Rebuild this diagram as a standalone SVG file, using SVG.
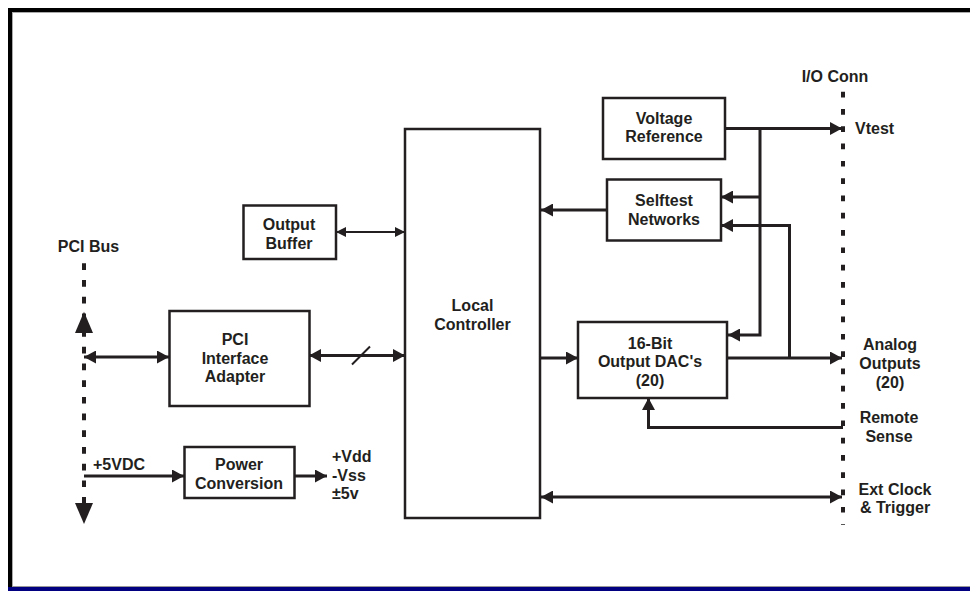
<svg xmlns="http://www.w3.org/2000/svg" width="970" height="591" viewBox="0 0 970 591">
<defs>
<style>
.box{fill:#fff;stroke:#231f20;stroke-width:2.5}
.t{font-family:"Liberation Sans",Arial,sans-serif;font-weight:bold;font-size:16px;fill:#231f20;text-anchor:middle}
.ts{font-family:"Liberation Sans",Arial,sans-serif;font-weight:bold;font-size:16px;fill:#231f20}
.w{fill:none;stroke:#231f20;stroke-width:3}
.wt{fill:none;stroke:#231f20;stroke-width:2}
.dot{fill:none;stroke:#231f20;stroke-width:4}
</style>
<marker id="a" viewBox="0 0 12 13" refX="12" refY="6.5" markerWidth="12" markerHeight="13" markerUnits="userSpaceOnUse" orient="auto-start-reverse"><path d="M0,0 L12,6.5 L0,13 z" fill="#231f20"/></marker>
<marker id="s" viewBox="0 0 10 10" refX="10" refY="5" markerWidth="10" markerHeight="10" markerUnits="userSpaceOnUse" orient="auto-start-reverse"><path d="M0,0 L10,5 L0,10 z" fill="#231f20"/></marker>
</defs>
<rect x="0" y="0" width="970" height="591" fill="#fff"/>
<g id="frame">
<rect x="8" y="8" width="962" height="4" fill="#000"/>
<rect x="8" y="8" width="4" height="580" fill="#000"/>
<line x1="12" y1="12.5" x2="970" y2="12.5" stroke="#aaa" stroke-width="1"/>
<line x1="12.5" y1="12" x2="12.5" y2="586" stroke="#aaa" stroke-width="1"/>
<line x1="12" y1="586.5" x2="970" y2="586.5" stroke="#999" stroke-width="1"/>
<rect x="8" y="587" width="962" height="4" fill="#000080"/>
</g>
<g id="connectors">
<line class="dot" x1="843" y1="91.7" x2="843" y2="525" stroke-dasharray="5.7 11.6"/>
<line class="dot" x1="84" y1="263.3" x2="84" y2="503" stroke-dasharray="6.7 10"/>
<polygon points="84,311.7 75,333 93,333" fill="#231f20"/>
<polygon points="84,524 75,503 93,503" fill="#231f20"/>
<line class="wt" x1="336" y1="232" x2="405" y2="232" marker-start="url(#s)" marker-end="url(#s)"/>
<line class="w" x1="84" y1="357" x2="169" y2="357" marker-start="url(#a)" marker-end="url(#a)"/>
<line class="w" x1="309" y1="355.5" x2="405" y2="355.5" marker-start="url(#a)" marker-end="url(#a)"/>
<line class="wt" x1="352" y1="364.5" x2="370" y2="346.5"/>
<line class="w" x1="84" y1="476" x2="184" y2="476" marker-end="url(#a)"/>
<line class="w" x1="294" y1="476" x2="327" y2="476" marker-end="url(#a)"/>
<line class="w" x1="607" y1="210" x2="541" y2="210" marker-end="url(#a)"/>
<line class="w" x1="540" y1="358" x2="578" y2="358" marker-end="url(#a)"/>
<line class="w" x1="725" y1="128.5" x2="842" y2="128.5" marker-end="url(#a)"/>
<path class="w" d="M760,128.5 V335 H728" marker-end="url(#a)"/>
<line class="w" x1="760" y1="197" x2="721" y2="197" marker-end="url(#a)"/>
<path class="w" d="M789.5,358 V225.5 H721" marker-end="url(#a)"/>
<line class="w" x1="727" y1="358" x2="842" y2="358" marker-end="url(#a)"/>
<path class="w" d="M843,427.5 H648.5 V398" marker-end="url(#a)"/>
<line class="w" x1="541" y1="497" x2="842" y2="497" marker-start="url(#a)" marker-end="url(#a)"/>
</g>
<g id="local-controller">
<rect class="box" x="405" y="129" width="135" height="389"/>
<text class="t" x="472.5" y="311">Local</text>
<text class="t" x="472.5" y="330">Controller</text>
</g>
<g id="output-buffer">
<rect class="box" x="243.5" y="205.5" width="92.5" height="53.5"/>
<text class="t" x="289" y="229.5">Output</text>
<text class="t" x="289" y="248.5">Buffer</text>
</g>
<g id="pci-interface-adapter">
<rect class="box" x="169.5" y="311" width="140" height="95"/>
<text class="t" x="235" y="345">PCI</text>
<text class="t" x="235" y="363.5">Interface</text>
<text class="t" x="235" y="382">Adapter</text>
</g>
<g id="power-conversion">
<rect class="box" x="184.5" y="447" width="110" height="51"/>
<text class="t" x="239" y="470">Power</text>
<text class="t" x="239" y="488.5">Conversion</text>
</g>
<g id="voltage-reference">
<rect class="box" x="603" y="98" width="122" height="61"/>
<text class="t" x="664" y="124">Voltage</text>
<text class="t" x="664" y="142">Reference</text>
</g>
<g id="selftest-networks">
<rect class="box" x="607" y="179.5" width="114" height="61"/>
<text class="t" x="664" y="206">Selftest</text>
<text class="t" x="664" y="225">Networks</text>
</g>
<g id="output-dacs">
<rect class="box" x="578" y="322" width="149" height="76"/>
<text class="t" x="650" y="348.5">16-Bit</text>
<text class="t" x="650" y="367">Output DAC's</text>
<text class="t" x="650" y="385.5">(20)</text>
</g>
<g id="pci-bus">
<text class="t" x="88.5" y="252">PCI Bus</text>
<text class="ts" x="93" y="470">+5VDC</text>
</g>
<g id="power-outputs">
<text class="ts" x="332" y="462">+Vdd</text>
<text class="ts" x="332" y="481">-Vss</text>
<text class="ts" x="332" y="498.5">±5v</text>
</g>
<g id="io-conn">
<text class="t" x="835" y="82">I/O Conn</text>
<text class="ts" x="855" y="133.5">Vtest</text>
<text class="t" x="890" y="350">Analog</text>
<text class="t" x="890" y="369">Outputs</text>
<text class="t" x="890" y="388">(20)</text>
<text class="t" x="889" y="423">Remote</text>
<text class="t" x="889" y="442">Sense</text>
<text class="t" x="895" y="495">Ext Clock</text>
<text class="t" x="895" y="513">&amp; Trigger</text>
</g>
</svg>
